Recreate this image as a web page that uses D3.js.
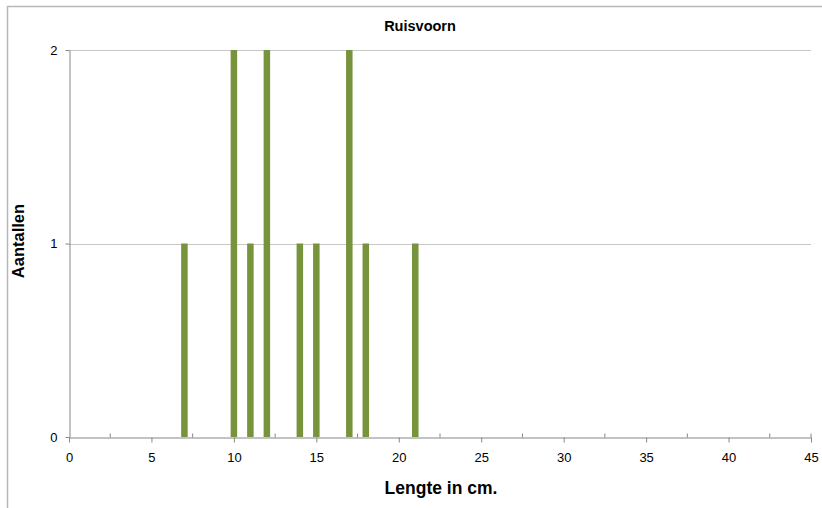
<!DOCTYPE html>
<html>
<head>
<meta charset="utf-8">
<script src="https://cdn.jsdelivr.net/npm/d3@7"></script>
<style>
  body { margin: 0; background: #fff; }
  svg { display: block; font-family: "Liberation Sans", Arial, sans-serif; }
</style>
</head>
<body>
<svg id="chart" width="822" height="508"></svg>
<script>
// data
const lengths = [7, 10, 11, 12, 14, 15, 17, 18, 21];
const counts = [1, 2, 1, 2, 1, 1, 2, 1, 1];
const xTicks = [0, 5, 10, 15, 20, 25, 30, 35, 40, 45];
const xMinorTicks = [2.5, 7.5, 12.5, 17.5, 22.5, 27.5, 32.5, 37.5, 42.5];
const yTicks = [0, 1, 2];

const svg = d3.select("#chart");
const margin = { top: 50, right: 11, bottom: 71, left: 69 };
const width = 822 - margin.left - margin.right;
const height = 508 - margin.top - margin.bottom;

// outer chart frame (cut off right and bottom)
svg.append("path")
  .attr("d", "M7.5,508 V6.5 H822")
  .attr("fill", "none")
  .attr("stroke", "#b8b8b8")
  .attr("stroke-width", 1.5);

const g = svg.append("g").attr("transform", `translate(${margin.left},${margin.top})`);

const x = d3.scaleLinear().domain([0, 45]).range([0, width]);
const y = d3.scaleLinear().domain([0, 2]).range([height, 0]);

// gridlines
g.selectAll(".grid")
  .data(yTicks.filter(d => d > 0))
  .join("line")
  .attr("x1", 0).attr("x2", width)
  .attr("y1", d => Math.round(y(d)) + 0.5).attr("y2", d => Math.round(y(d)) + 0.5)
  .attr("stroke", "#c8c8c8");

// bars
const barW = 6.5;
g.selectAll(".bar")
  .data(lengths.map((l, i) => ({ l, c: counts[i] })))
  .join("rect")
  .attr("x", d => x(d.l) - barW / 2)
  .attr("y", d => y(d.c))
  .attr("width", barW)
  .attr("height", d => height - y(d.c))
  .attr("fill", "#77933c");

// y axis
const yAxis = g.append("g")
  .attr("transform", "translate(0.5,0)")
  .call(d3.axisLeft(y).tickValues(yTicks).tickFormat(d3.format("d")).tickSizeInner(4).tickSizeOuter(0).tickPadding(8));

// x axis
const xAxis = g.append("g")
  .attr("transform", `translate(0,${Math.round(height) + 0.5})`)
  .call(d3.axisBottom(x).tickValues(xTicks).tickSizeInner(5).tickSizeOuter(0).tickPadding(10));

// minor ticks on the inside
xAxis.selectAll(".minor")
  .data(xMinorTicks.concat([45]))
  .join("line")
  .attr("class", "minor")
  .attr("x1", d => x(d)).attr("x2", d => x(d))
  .attr("y1", 0).attr("y2", -4)
  .attr("stroke", "#868686");

[yAxis, xAxis].forEach(ax => {
  ax.attr("font-size", 13);
  ax.select(".domain").attr("stroke", "#868686");
  ax.selectAll(".tick line").attr("stroke", "#868686");
  ax.selectAll("text").attr("font-size", 13).attr("fill", "#000")
    .attr("font-family", "Liberation Sans, Arial, sans-serif");
});

// title and axis labels
svg.append("text")
  .attr("x", 420).attr("y", 31)
  .attr("text-anchor", "middle")
  .attr("font-size", 14.5).attr("font-weight", "bold")
  .text("Ruisvoorn");

svg.append("text")
  .attr("x", 441).attr("y", 494)
  .attr("text-anchor", "middle")
  .attr("font-size", 17.5).attr("font-weight", "bold")
  .text("Lengte in cm.");

svg.append("text")
  .attr("transform", "translate(24,241) rotate(-90)")
  .attr("text-anchor", "middle")
  .attr("font-size", 16.5).attr("font-weight", "bold")
  .text("Aantallen");
</script>
</body>
</html>
